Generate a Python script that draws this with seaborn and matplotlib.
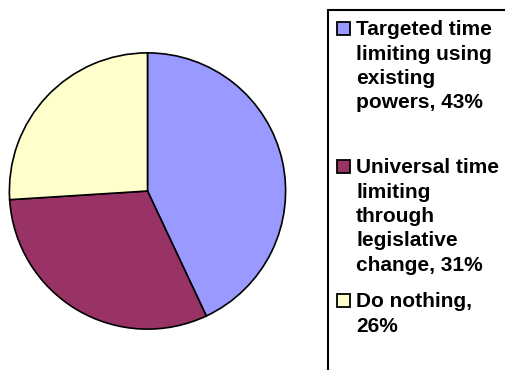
import matplotlib
matplotlib.use("Agg")
import matplotlib.pyplot as plt
import matplotlib.patches as mpatches
import seaborn as sns

sns.set_theme(style="white")
plt.rcParams['font.family'] = ['Liberation Sans', 'DejaVu Sans']

# Data
categories = ["Targeted time\nlimiting using\nexisting\npowers, 43%",
              "Universal time\nlimiting\nthrough\nlegislative\nchange, 31%",
              "Do nothing,\n26%"]
values = [43, 31, 26]
colors = ["#9999FF", "#993366", "#FFFFCC"]

W, H = 506, 370
fig = plt.figure(figsize=(W / 100, H / 100), dpi=100)
fig.patch.set_facecolor("white")

cx, cy, r = 147.5, 191, 139.5
ax = fig.add_axes([(cx - r) / W, (H - cy - r) / H, 2 * r / W, 2 * r / H])
ax.pie(values, colors=colors, startangle=90, counterclock=False, radius=1,
       wedgeprops=dict(edgecolor="black", linewidth=1.2))
ax.set_xlim(-1.01, 1.01)
ax.set_ylim(-1.01, 1.01)
ax.set_aspect("auto")
ax.axis("off")

def fx(px):
    return px / W

def fy(py):
    return 1 - py / H

# legend frame
fig.patches.append(mpatches.Rectangle((fx(328), fy(380)), fx(200), (380 - 10) / H,
                                      transform=fig.transFigure, facecolor="none",
                                      edgecolor="black", linewidth=1.5))

first_baselines = [35, 173, 307]
line_step = 24.5
for lab, col, b0 in zip(categories, colors, first_baselines):
    fig.patches.append(mpatches.Rectangle((fx(337), fy(b0)), fx(13), 13 / H,
                                          transform=fig.transFigure, facecolor=col,
                                          edgecolor="black", linewidth=1.3))
    for i, line in enumerate(lab.split("\n")):
        fig.text(fx(356), fy(b0 + i * line_step), line, fontsize=15,
                 fontweight="bold", va="baseline", ha="left", color="black")

fig.savefig("out.png", dpi=100)
